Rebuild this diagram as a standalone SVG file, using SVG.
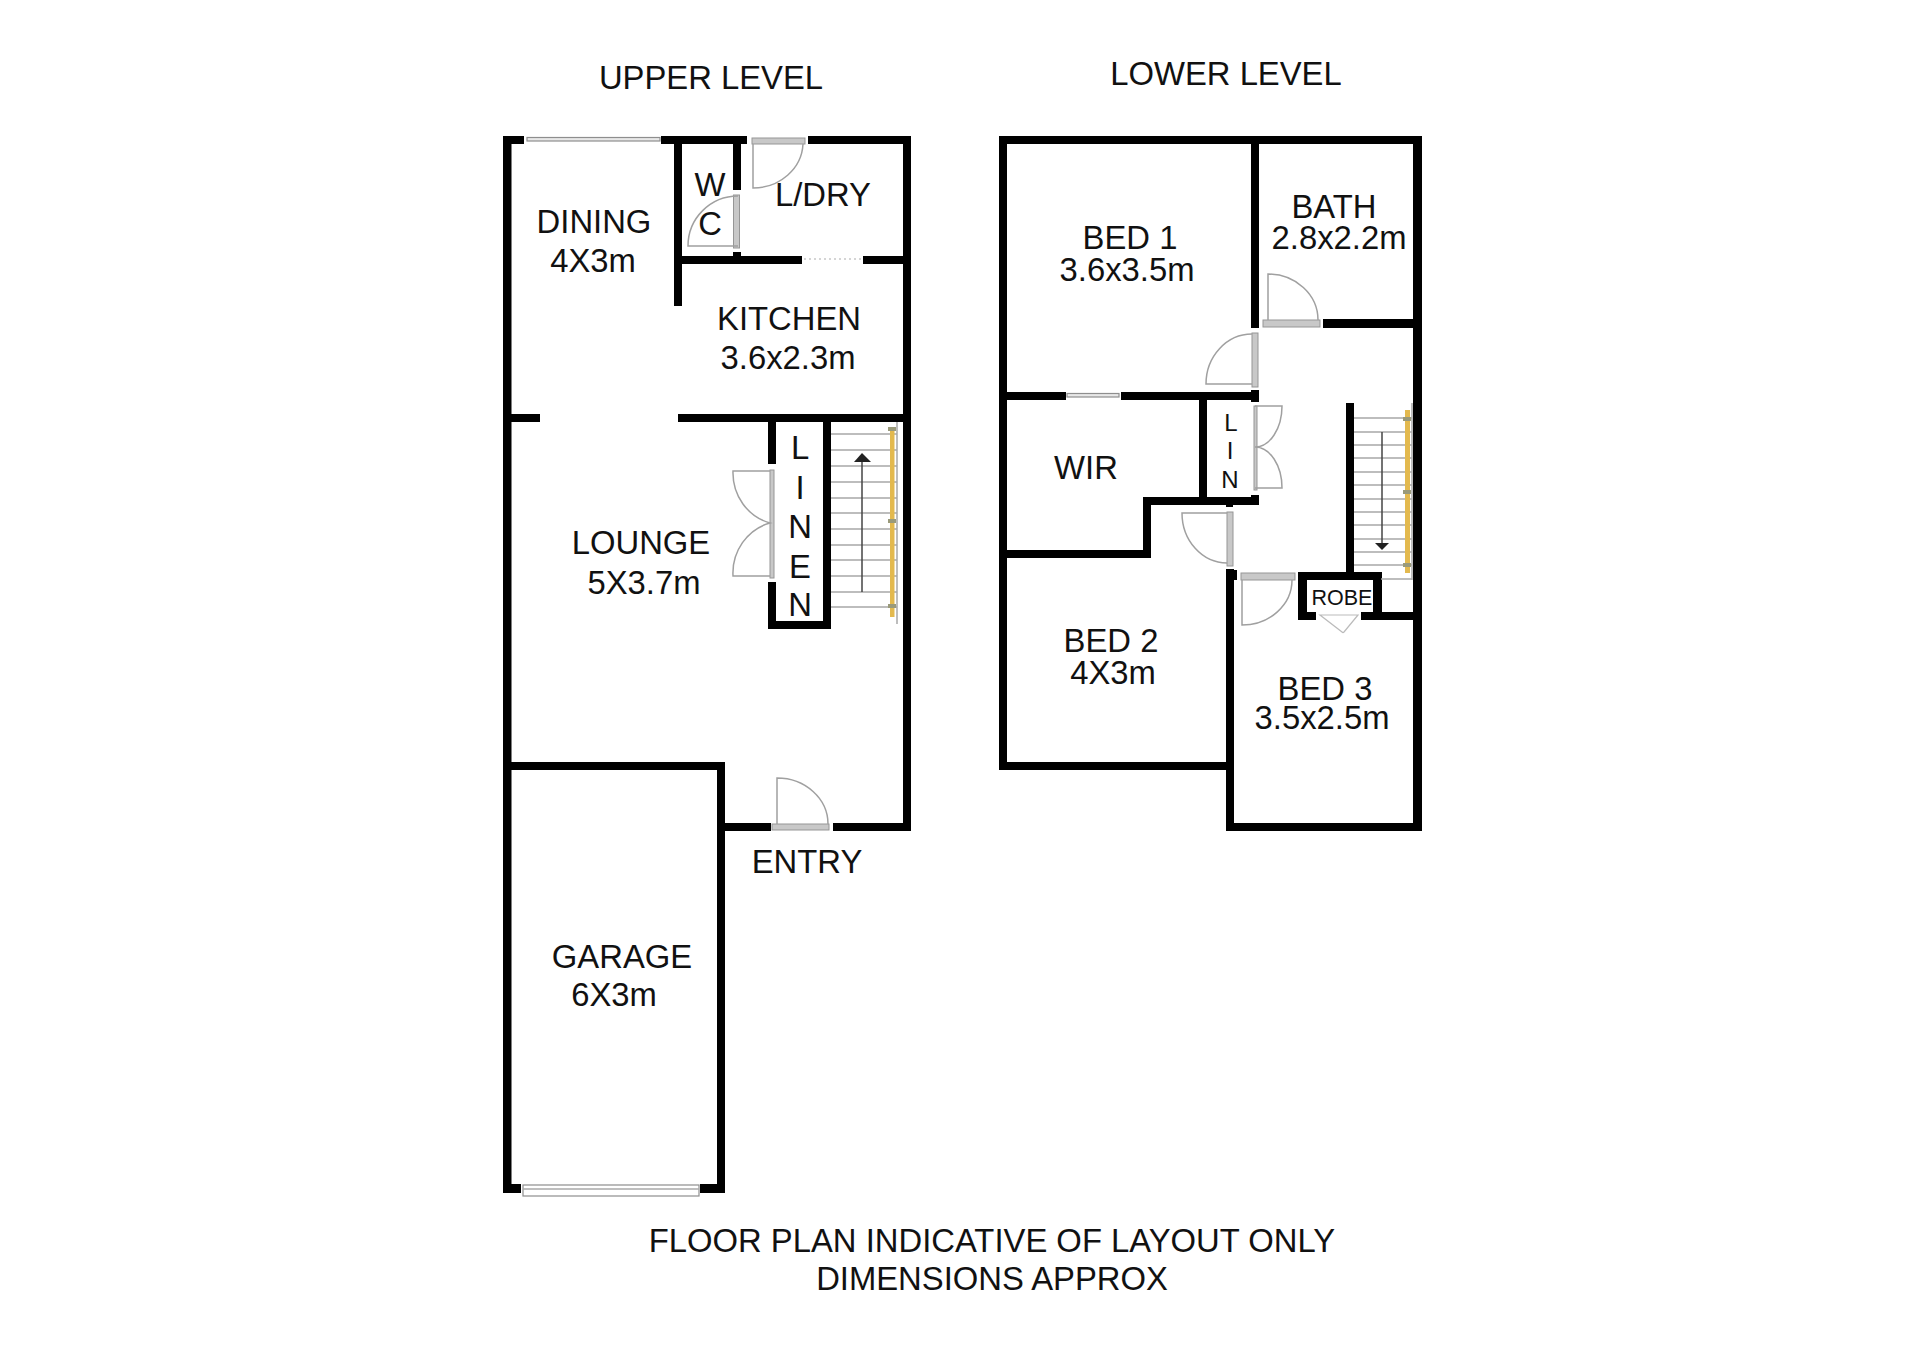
<svg xmlns="http://www.w3.org/2000/svg" width="1920" height="1356" viewBox="0 0 1920 1356">
<style>
.w{fill:#000}
.t{font-family:"Liberation Sans",Arial,sans-serif;font-size:32.800px;fill:#111;text-anchor:middle}
.m{font-size:24px}
.r{font-size:21.500px}
.d{fill:none;stroke:#a0a0a0;stroke-width:1.500}
.f{fill:#c8c8c8;stroke:#969696;stroke-width:1}
.s{fill:#e8e8e8;stroke:#8e8e8e;stroke-width:1.200}
.tr{stroke:#a8a8a8;stroke-width:1.500;fill:none}
.rail{fill:#e3b94e}
.kn{fill:#9a9a7a}
.ar{stroke:#444;stroke-width:1.500;fill:none}
.hd{fill:#222}
</style>
<rect width="1920" height="1356" fill="#fff"/>
<g id="upper-walls">
<rect class="w" x="503" y="136" width="8.500" height="1057"/>
<rect class="w" x="503" y="136" width="21" height="8"/>
<rect class="w" x="661" y="136" width="86" height="8"/>
<rect class="w" x="808" y="136" width="103" height="8"/>
<rect class="w" x="903" y="136" width="8" height="695"/>
<rect class="w" x="674" y="136" width="8" height="170"/>
<rect class="w" x="733" y="136" width="8" height="54"/>
<rect class="w" x="733" y="252" width="8" height="10"/>
<rect class="w" x="674" y="256" width="128" height="8"/>
<rect class="w" x="863" y="256" width="48" height="8"/>
<rect class="w" x="503" y="414" width="37" height="8"/>
<rect class="w" x="678" y="414" width="233" height="8"/>
<rect class="w" x="768" y="414" width="8" height="50"/>
<rect class="w" x="768" y="582" width="8" height="47"/>
<rect class="w" x="823" y="414" width="8" height="215"/>
<rect class="w" x="768" y="621" width="63" height="8"/>
<rect class="w" x="503" y="762" width="222" height="8"/>
<rect class="w" x="717" y="762" width="8" height="431"/>
<rect class="w" x="717" y="823" width="54" height="8"/>
<rect class="w" x="833" y="823" width="78" height="8"/>
<rect class="w" x="503" y="1184" width="18" height="9"/>
<rect class="w" x="700" y="1184" width="25" height="9"/>
</g>
<g id="upper-doors">
<rect class="s" x="527" y="137.500" width="133" height="3.500"/>
<rect class="f" x="752" y="138" width="53" height="6"/>
<path class="d" d="M753 144V188A50 46 0 0 0 803 144"/>
<rect class="f" x="733.500" y="195" width="6" height="53"/>
<path class="d" d="M738 246H688A50 50 0 0 1 738 196"/>
<path d="M804 259H862" fill="none" stroke="#c8c8c8" stroke-width="1.500" stroke-dasharray="2 3"/>
<rect class="f" x="770" y="470" width="4" height="108"/>
<path class="d" d="M770 471H733A50 52 0 0 0 770 523A50 52 0 0 0 733 576H770"/>
<rect class="f" x="772" y="824" width="57" height="6"/>
<path class="d" d="M777 824V778A51 46 0 0 1 828 824"/>
<rect x="523" y="1185" width="176" height="11" fill="#fff" stroke="#8e8e8e" stroke-width="1.200"/>
<path class="tr" d="M523 1189H699"/>
</g>
<g id="upper-stairs">
<path class="tr" d="M831 434H897M831 450H897M831 466H897M831 482H897M831 498H897M831 513H897M831 529H897M831 545H897M831 560H897M831 576H897M831 592H897M831 607H897M897 422V624"/>
<rect class="rail" x="890" y="427" width="4.500" height="190"/>
<path class="kn" d="M888 427h8v4h-8zM888 519h8v4h-8zM888 604h8v4h-8z"/>
<path class="ar" d="M862 592V460"/>
<path class="hd" d="M854 462H871L862 453Z"/>
</g>
<g id="lower-walls">
<rect class="w" x="999" y="136" width="8" height="634"/>
<rect class="w" x="999" y="136" width="423" height="8"/>
<rect class="w" x="1413" y="136" width="9" height="695"/>
<rect class="w" x="1251" y="136" width="8" height="192"/>
<rect class="w" x="1323" y="319" width="99" height="9"/>
<rect class="w" x="999" y="392" width="67" height="8"/>
<rect class="w" x="1121" y="392" width="138" height="8"/>
<rect class="w" x="1251" y="390" width="8" height="12"/>
<rect class="w" x="1199" y="392" width="8" height="113"/>
<rect class="w" x="1143" y="497" width="116" height="8"/>
<rect class="w" x="1251" y="495" width="8" height="10"/>
<rect class="w" x="1226" y="502" width="7" height="5"/>
<rect class="w" x="1143" y="497" width="8" height="61"/>
<rect class="w" x="999" y="550" width="152" height="8"/>
<rect class="w" x="1226" y="569" width="8" height="262"/>
<rect class="w" x="1226" y="570" width="11" height="10"/>
<rect class="w" x="999" y="762" width="235" height="8"/>
<rect class="w" x="1226" y="823" width="196" height="8"/>
<rect class="w" x="1346" y="403" width="8" height="170"/>
<rect class="w" x="1298" y="572" width="84" height="8"/>
<rect class="w" x="1298" y="572" width="9" height="48"/>
<rect class="w" x="1373" y="572" width="9" height="48"/>
<rect class="w" x="1298" y="612" width="18" height="8"/>
<rect class="w" x="1361" y="612" width="61" height="8"/>
</g>
<g id="lower-doors">
<rect class="f" x="1263" y="320" width="57" height="7"/>
<path class="d" d="M1268 320V274A50 46 0 0 1 1318 320"/>
<rect class="f" x="1252" y="333" width="6" height="54"/>
<path class="d" d="M1252 384H1206A46 50 0 0 1 1252 334"/>
<rect class="s" x="1067" y="393.500" width="52" height="3.500"/>
<rect class="f" x="1254" y="406" width="3" height="84"/>
<path class="d" d="M1255 406H1282A27 41 0 0 1 1255 447A27 41 0 0 1 1282 488H1255"/>
<rect class="f" x="1227" y="512" width="6" height="54"/>
<path class="d" d="M1227 513H1182A45 50 0 0 0 1227 563"/>
<rect class="f" x="1241" y="573" width="54" height="7"/>
<path class="d" d="M1242 580V625A50 45 0 0 0 1292 580"/>
<path d="M1320 615H1358L1344 632Q1343 633 1342 632Z" fill="none" stroke="#bbb" stroke-width="1.200"/>
</g>
<g id="lower-stairs">
<path class="tr" d="M1354 418H1412M1354 432H1412M1354 445H1412M1354 458H1412M1354 472H1412M1354 485H1412M1354 499H1412M1354 512H1412M1354 525H1412M1354 539H1412M1354 552H1412M1354 565H1412M1381 579H1412M1412 403V580"/>
<rect class="rail" x="1405" y="410" width="5" height="163"/>
<path class="kn" d="M1403 417h8v4h-8zM1403 490h8v4h-8zM1403 563h8v4h-8z"/>
<path class="ar" d="M1382 432V545"/>
<path class="hd" d="M1375 543H1389L1382 550Z"/>
</g>
<g id="labels">
<text class="t" x="711" y="89">UPPER LEVEL</text>
<text class="t" x="1226" y="85">LOWER LEVEL</text>
<text class="t" x="594" y="233">DINING</text>
<text class="t" x="593" y="272">4X3m</text>
<text class="t" x="710" y="196">W</text>
<text class="t" x="710" y="235">C</text>
<text class="t" x="823" y="206">L/DRY</text>
<text class="t" x="789" y="330">KITCHEN</text>
<text class="t" x="788" y="369">3.6x2.3m</text>
<text class="t" x="641" y="554">LOUNGE</text>
<text class="t" x="644" y="594">5X3.7m</text>
<text class="t" x="800" y="459">L</text>
<text class="t" x="800" y="499">I</text>
<text class="t" x="800" y="538">N</text>
<text class="t" x="800" y="578">E</text>
<text class="t" x="800" y="616">N</text>
<text class="t" x="807" y="873">ENTRY</text>
<text class="t" x="622" y="968">GARAGE</text>
<text class="t" x="614" y="1006">6X3m</text>
<text class="t" x="1130" y="249">BED 1</text>
<text class="t" x="1127" y="281">3.6x3.5m</text>
<text class="t" x="1334" y="218">BATH</text>
<text class="t" x="1339" y="249">2.8x2.2m</text>
<text class="t" x="1086" y="479">WIR</text>
<text class="t m" x="1231" y="431">L</text>
<text class="t m" x="1230" y="459">I</text>
<text class="t m" x="1230" y="488">N</text>
<text class="t" x="1111" y="652">BED 2</text>
<text class="t" x="1113" y="684">4X3m</text>
<text class="t" x="1325" y="700">BED 3</text>
<text class="t" x="1322" y="729">3.5x2.5m</text>
<text class="t r" x="1342" y="605">ROBE</text>
<text class="t" x="992" y="1252">FLOOR PLAN INDICATIVE OF LAYOUT ONLY</text>
<text class="t" x="992" y="1290">DIMENSIONS APPROX</text>
</g>
</svg>
